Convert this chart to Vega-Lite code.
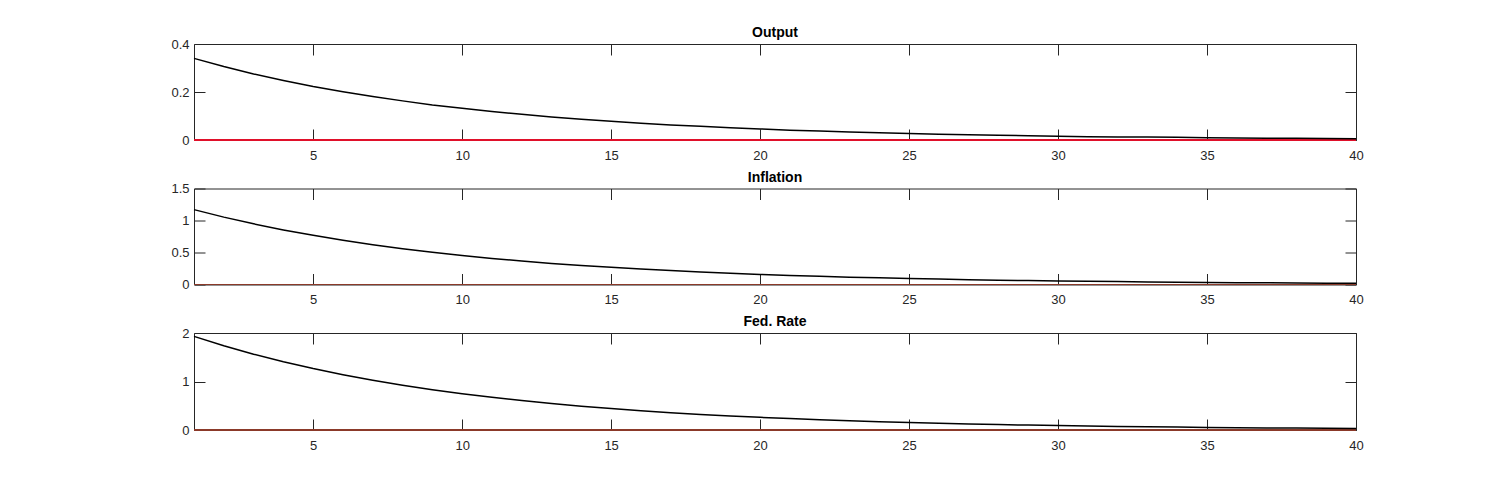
{
  "$schema": "https://vega.github.io/schema/vega-lite/v6.json",
  "padding": {"left": 170, "top": 25, "right": 0, "bottom": 0},
  "background": "white",
  "config": {
    "font": "Liberation Sans",
    "view": {"stroke": "#262626", "strokeWidth": 1},
    "axis": {
      "grid": false,
      "domain": false,
      "tickColor": "#262626",
      "tickSize": -11,
      "tickWidth": 1,
      "labelColor": "#262626",
      "labelFont": "Liberation Sans",
      "labelFontSize": 13,
      "title": null
    },
    "title": {"font": "Liberation Sans", "fontSize": 14, "fontWeight": "bold", "color": "#000000", "offset": -2}
  },
  "data": {"values": [
    {"t": 1, "out": 0.340, "inf": 1.170, "fed": 1.930},
    {"t": 2, "out": 0.306, "inf": 1.053, "fed": 1.737},
    {"t": 3, "out": 0.275, "inf": 0.948, "fed": 1.563},
    {"t": 4, "out": 0.248, "inf": 0.853, "fed": 1.407},
    {"t": 5, "out": 0.223, "inf": 0.768, "fed": 1.266},
    {"t": 6, "out": 0.201, "inf": 0.691, "fed": 1.140},
    {"t": 7, "out": 0.181, "inf": 0.622, "fed": 1.026},
    {"t": 8, "out": 0.163, "inf": 0.560, "fed": 0.923},
    {"t": 9, "out": 0.146, "inf": 0.504, "fed": 0.831},
    {"t": 10, "out": 0.132, "inf": 0.453, "fed": 0.748},
    {"t": 11, "out": 0.119, "inf": 0.408, "fed": 0.673},
    {"t": 12, "out": 0.107, "inf": 0.367, "fed": 0.606},
    {"t": 13, "out": 0.096, "inf": 0.330, "fed": 0.545},
    {"t": 14, "out": 0.086, "inf": 0.297, "fed": 0.491},
    {"t": 15, "out": 0.078, "inf": 0.268, "fed": 0.442},
    {"t": 16, "out": 0.070, "inf": 0.241, "fed": 0.397},
    {"t": 17, "out": 0.063, "inf": 0.217, "fed": 0.358},
    {"t": 18, "out": 0.057, "inf": 0.195, "fed": 0.322},
    {"t": 19, "out": 0.051, "inf": 0.176, "fed": 0.290},
    {"t": 20, "out": 0.046, "inf": 0.158, "fed": 0.261},
    {"t": 21, "out": 0.041, "inf": 0.142, "fed": 0.235},
    {"t": 22, "out": 0.037, "inf": 0.128, "fed": 0.211},
    {"t": 23, "out": 0.033, "inf": 0.115, "fed": 0.190},
    {"t": 24, "out": 0.030, "inf": 0.104, "fed": 0.171},
    {"t": 25, "out": 0.027, "inf": 0.093, "fed": 0.154},
    {"t": 26, "out": 0.024, "inf": 0.084, "fed": 0.139},
    {"t": 27, "out": 0.022, "inf": 0.076, "fed": 0.125},
    {"t": 28, "out": 0.020, "inf": 0.068, "fed": 0.112},
    {"t": 29, "out": 0.018, "inf": 0.061, "fed": 0.101},
    {"t": 30, "out": 0.016, "inf": 0.055, "fed": 0.091},
    {"t": 31, "out": 0.014, "inf": 0.050, "fed": 0.082},
    {"t": 32, "out": 0.013, "inf": 0.045, "fed": 0.074},
    {"t": 33, "out": 0.012, "inf": 0.040, "fed": 0.066},
    {"t": 34, "out": 0.011, "inf": 0.036, "fed": 0.060},
    {"t": 35, "out": 0.0095, "inf": 0.033, "fed": 0.054},
    {"t": 36, "out": 0.0085, "inf": 0.029, "fed": 0.048},
    {"t": 37, "out": 0.0077, "inf": 0.026, "fed": 0.043},
    {"t": 38, "out": 0.0069, "inf": 0.024, "fed": 0.039},
    {"t": 39, "out": 0.0062, "inf": 0.021, "fed": 0.035},
    {"t": 40, "out": 0.0056, "inf": 0.019, "fed": 0.032}
  ]},
  "vconcat": [
    {
      "title": "Output",
      "width": 1162,
      "height": 96,
      "resolve": {"axis": {"x": "independent", "y": "independent"}},
      "layer": [
        {
          "mark": {"type": "rule", "color": "#e0102a", "strokeWidth": 2},
          "encoding": {"y": {"datum": 0, "type": "quantitative", "scale": {"domain": [0, 0.4], "nice": false}, "axis": null}}
        },
        {
          "mark": {"type": "line", "color": "#000000", "strokeWidth": 1.5},
          "encoding": {
            "x": {"field": "t", "type": "quantitative", "scale": {"domain": [1, 40], "nice": false, "zero": false}, "axis": {"orient": "bottom", "values": [5, 10, 15, 20, 25, 30, 35, 40], "labelPadding": 20, "labelFlush": false}},
            "y": {"field": "out", "type": "quantitative", "scale": {"domain": [0, 0.4], "nice": false}, "axis": {"orient": "left", "values": [0, 0.2, 0.4], "format": "~g", "labelPadding": 16}}
          }
        },
        {
          "mark": {"type": "line", "strokeOpacity": 0},
          "encoding": {
            "x": {"field": "t", "type": "quantitative", "axis": {"orient": "top", "values": [5, 10, 15, 20, 25, 30, 35, 40], "labels": false}},
            "y": {"field": "out", "type": "quantitative", "axis": {"orient": "right", "values": [0, 0.2, 0.4], "labels": false}}
          }
        }
      ]
    },
    {
      "title": "Inflation",
      "width": 1162,
      "height": 96,
      "resolve": {"axis": {"x": "independent", "y": "independent"}},
      "layer": [
        {
          "mark": {"type": "rule", "color": "#8b3a2a", "strokeWidth": 1},
          "encoding": {"y": {"datum": 0, "type": "quantitative", "scale": {"domain": [0, 1.5], "nice": false}, "axis": null}}
        },
        {
          "mark": {"type": "line", "color": "#000000", "strokeWidth": 1.5},
          "encoding": {
            "x": {"field": "t", "type": "quantitative", "scale": {"domain": [1, 40], "nice": false, "zero": false}, "axis": {"orient": "bottom", "values": [5, 10, 15, 20, 25, 30, 35, 40], "labelPadding": 20, "labelFlush": false}},
            "y": {"field": "inf", "type": "quantitative", "scale": {"domain": [0, 1.5], "nice": false}, "axis": {"orient": "left", "values": [0, 0.5, 1, 1.5], "format": "~g", "labelPadding": 16}}
          }
        },
        {
          "mark": {"type": "line", "strokeOpacity": 0},
          "encoding": {
            "x": {"field": "t", "type": "quantitative", "axis": {"orient": "top", "values": [5, 10, 15, 20, 25, 30, 35, 40], "labels": false}},
            "y": {"field": "inf", "type": "quantitative", "axis": {"orient": "right", "values": [0, 0.5, 1, 1.5], "labels": false}}
          }
        }
      ]
    },
    {
      "title": "Fed. Rate",
      "width": 1162,
      "height": 97,
      "resolve": {"axis": {"x": "independent", "y": "independent"}},
      "layer": [
        {
          "mark": {"type": "rule", "color": "#8b3a2a", "strokeWidth": 1},
          "encoding": {"y": {"datum": 0, "type": "quantitative", "scale": {"domain": [0, 2], "nice": false}, "axis": null}}
        },
        {
          "mark": {"type": "line", "color": "#000000", "strokeWidth": 1.5},
          "encoding": {
            "x": {"field": "t", "type": "quantitative", "scale": {"domain": [1, 40], "nice": false, "zero": false}, "axis": {"orient": "bottom", "values": [5, 10, 15, 20, 25, 30, 35, 40], "labelPadding": 20, "labelFlush": false}},
            "y": {"field": "fed", "type": "quantitative", "scale": {"domain": [0, 2], "nice": false}, "axis": {"orient": "left", "values": [0, 1, 2], "format": "~g", "labelPadding": 16}}
          }
        },
        {
          "mark": {"type": "line", "strokeOpacity": 0},
          "encoding": {
            "x": {"field": "t", "type": "quantitative", "axis": {"orient": "top", "values": [5, 10, 15, 20, 25, 30, 35, 40], "labels": false}},
            "y": {"field": "fed", "type": "quantitative", "axis": {"orient": "right", "values": [0, 1, 2], "labels": false}}
          }
        }
      ]
    }
  ],
  "spacing": 48.5,
  "bounds": "flush"
}
